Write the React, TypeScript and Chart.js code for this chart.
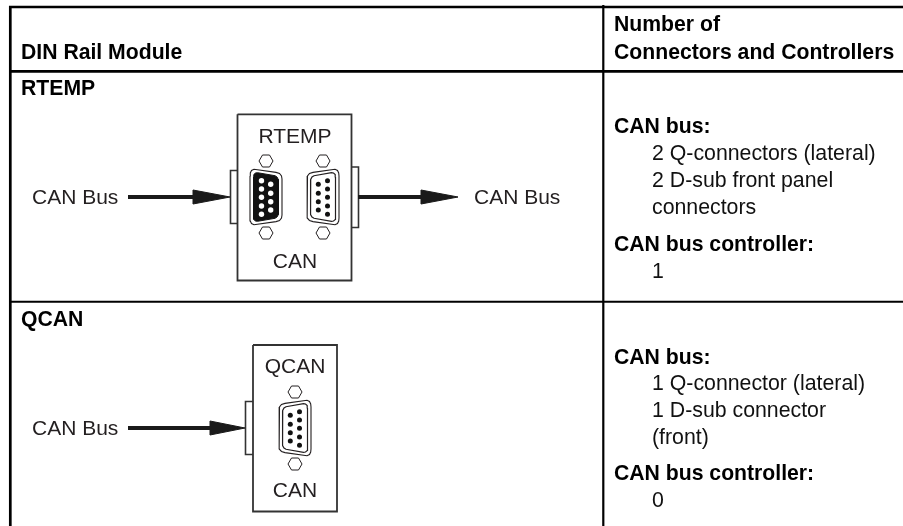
import React, { useEffect, useRef } from "react";
import { Chart, registerables } from "chart.js";

Chart.register(...registerables);

type P = { x: number; y: number };
const pts = (a: number[][]): P[] => a.map(([x, y]) => ({ x, y }));
const at = (a: number[][], cx: number, cy: number): P[] => a.map(([x, y]) => ({ x: x + cx, y: y + cy }));
const mirror = (a: number[][]) => a.map(([x, y]) => [-x, y]);

// --- text content ---
const headerLeft = ["DIN Rail Module"];
const headerRight = ["Number of", "Connectors and Controllers"];
const moduleNames = ["RTEMP", "QCAN"];
const busLabel = "CAN Bus";
const canLabel = "CAN";
const busHeading = "CAN bus:";
const controllerHeading = "CAN bus controller:";
const rtempLines = ["2 Q-connectors (lateral)", "2 D-sub front panel", "connectors"];
const qcanLines = ["1 Q-connector (lateral)", "1 D-sub connector", "(front)"];
const controllerCounts = ["1", "0"];

// --- table rules ---
const topRule = [[9, 7], [903, 7]];
const headerRule = [[9, 71.3], [903, 71.3]];
const rowRule = [[10, 301.7], [903, 301.7]];
const leftRule = [[10.3, 6], [10.3, 526]];
const columnRule = [[603.3, 5], [603.3, 526]];

// --- module outlines ---
const rtempBox = [[237.5, 114.3], [351.5, 114.3], [351.5, 280.5], [237.5, 280.5], [237.5, 114.3]];
const rtempLeftTab = [[237.5, 170.5], [230.5, 170.5], [230.5, 223.5], [237.5, 223.5]];
const rtempRightTab = [[351.5, 167], [358.5, 167], [358.5, 227.5], [351.5, 227.5]];
const qcanBox = [[253, 345], [337, 345], [337, 511.5], [253, 511.5], [253, 345]];
const qcanTab = [[253, 401.5], [245.5, 401.5], [245.5, 454.5], [253, 454.5]];

// --- arrows ---
const rtempInShaft = [[128, 197], [195, 197]];
const rtempInHead = [[193, 190], [230, 197], [193, 204], [193, 190]];
const rtempOutShaft = [[358, 197], [425, 197]];
const rtempOutHead = [[421, 190], [458, 197], [421, 204], [421, 190]];
const qcanShaft = [[128, 428], [212, 428]];
const qcanHead = [[210, 421], [245, 428], [210, 435], [210, 421]];

// --- connector shapes, relative to the connector centre ---
const hexagon = [[-7, 0], [-3.5, -6], [3.5, -6], [7, 0], [3.5, 6], [-3.5, 6], [-7, 0]];
const dsubOuter = [
  [-16, -21], [-15.7, -24], [-14.5, -26.5], [-12, -27.7], [10, -24.6], [13.5, -23.5], [15.5, -21], [16, -18],
  [16, 18], [15.5, 21], [13.5, 23.5], [10, 24.6], [-12, 27.7], [-14.5, 26.5], [-15.7, 24], [-16, 21], [-16, -21],
];
const dsubInner = [
  [-12.5, -20], [-12.2, -22.5], [-10.5, -24], [-8.5, -24.3], [9, -21.3], [11, -20], [12.3, -17.5], [12.5, -15],
  [12.5, 15], [12.3, 17.5], [11, 20], [9, 21.3], [-8.5, 24.3], [-10.5, 24], [-12.2, 22.5], [-12.5, 20], [-12.5, -20],
];
const dsubDots = [
  [-4.5, -16.3], [-4.5, -8], [-4.5, 0.3], [-4.5, 9], [-4.5, 17.3],
  [4.7, -12.7], [4.7, -3.7], [4.7, 4.7], [4.7, 13],
];

const HEAD = "bold 21.2px 'Liberation Sans', Arial, sans-serif";
const BODY = "21.3px 'Liberation Sans', Arial, sans-serif";
const DIAGRAM = "21px 'Liberation Sans', Arial, sans-serif";

type Txt = { s: string; x: number; y: number; font: string; color: string; center?: boolean };
const GREY = "#231f20";
const texts: Txt[] = [
  { s: headerLeft[0], x: 21, y: 59, font: HEAD, color: "#000" },
  { s: headerRight[0], x: 614, y: 31, font: HEAD, color: "#000" },
  { s: headerRight[1], x: 614, y: 59, font: HEAD, color: "#000" },
  { s: moduleNames[0], x: 21, y: 95, font: HEAD, color: "#000" },
  { s: moduleNames[1], x: 21, y: 326, font: HEAD, color: "#000" },
  { s: moduleNames[0], x: 295, y: 143, font: DIAGRAM, color: GREY, center: true },
  { s: canLabel, x: 295, y: 268, font: DIAGRAM, color: GREY, center: true },
  { s: moduleNames[1], x: 295, y: 373, font: DIAGRAM, color: GREY, center: true },
  { s: canLabel, x: 295, y: 497, font: DIAGRAM, color: GREY, center: true },
  { s: busLabel, x: 32, y: 204, font: DIAGRAM, color: GREY },
  { s: busLabel, x: 474, y: 204, font: DIAGRAM, color: GREY },
  { s: busLabel, x: 32, y: 435, font: DIAGRAM, color: GREY },
  { s: busHeading, x: 614, y: 133, font: HEAD, color: "#000" },
  { s: rtempLines[0], x: 652, y: 160, font: BODY, color: "#111" },
  { s: rtempLines[1], x: 652, y: 187, font: BODY, color: "#111" },
  { s: rtempLines[2], x: 652, y: 214, font: BODY, color: "#111" },
  { s: controllerHeading, x: 614, y: 251, font: HEAD, color: "#000" },
  { s: controllerCounts[0], x: 652, y: 278, font: BODY, color: "#111" },
  { s: busHeading, x: 614, y: 364, font: HEAD, color: "#000" },
  { s: qcanLines[0], x: 652, y: 390, font: BODY, color: "#111" },
  { s: qcanLines[1], x: 652, y: 417, font: BODY, color: "#111" },
  { s: qcanLines[2], x: 652, y: 444, font: BODY, color: "#111" },
  { s: controllerHeading, x: 614, y: 480, font: HEAD, color: "#000" },
  { s: controllerCounts[1], x: 652, y: 507, font: BODY, color: "#111" },
];

const line = (data: P[], color: string, width: number, extra: object = {}) => ({
  type: "line" as const, data, borderColor: color, borderWidth: width, pointRadius: 0,
  fill: false, tension: 0, borderJoinStyle: "miter" as const, ...extra,
});
const solid = (data: P[], color: string) =>
  line(data, color, 1, { fill: "shape", backgroundColor: color });
const dots = (data: P[], color: string, r: number) => ({
  type: "line" as const, data, showLine: false, pointRadius: r, pointBorderWidth: 0,
  pointBackgroundColor: color, pointBorderColor: color, borderWidth: 0,
});

const textPlugin = {
  id: "diagramText",
  afterDatasetsDraw(chart: any) {
    const { ctx, scales } = chart;
    ctx.save();
    ctx.textBaseline = "alphabetic";
    for (const t of texts) {
      ctx.font = t.font;
      ctx.fillStyle = t.color;
      ctx.textAlign = t.center ? "center" : "left";
      ctx.fillText(t.s, scales.x.getPixelForValue(t.x), scales.y.getPixelForValue(t.y));
    }
    ctx.restore();
  },
};

const connector = (cx: number, cy: number, filled: boolean, flip: boolean) => {
  const outer = flip ? mirror(dsubOuter) : dsubOuter;
  const inner = flip ? mirror(dsubInner) : dsubInner;
  const d = flip ? dsubDots.map(([x, y]) => [-x, y]) : dsubDots;
  const out: any[] = [
    line(at(hexagon, cx, cy - 36), "#231f20", 1),
    line(at(hexagon, cx, cy + 36), "#231f20", 1),
    line(at(outer, cx, cy), "#231f20", 1.1),
  ];
  if (filled) {
    out.push(solid(at(inner, cx, cy), "#111"));
    out.push(dots(at(d, cx, cy), "#fff", 2.7));
  } else {
    out.push(line(at(inner, cx, cy), "#231f20", 1.2));
    out.push(dots(at(d, cx, cy), "#111", 2.5));
  }
  return out;
};

export default function App() {
  const ref = useRef<HTMLCanvasElement>(null);
  useEffect(() => {
    const BOX = "#333";
    const datasets: any[] = [
      line(pts(topRule), "#000", 2.7),
      line(pts(headerRule), "#000", 2.7),
      line(pts(rowRule), "#000", 2),
      line(pts(leftRule), "#000", 2.7),
      line(pts(columnRule), "#000", 2.2),
      line(pts(rtempBox), BOX, 1.8),
      line(pts(rtempLeftTab), BOX, 1.6),
      line(pts(rtempRightTab), BOX, 1.6),
      line(pts(qcanBox), BOX, 1.8),
      line(pts(qcanTab), BOX, 1.6),
      line(pts(rtempInShaft), "#1a1a1a", 4),
      solid(pts(rtempInHead), "#1a1a1a"),
      line(pts(rtempOutShaft), "#1a1a1a", 4),
      solid(pts(rtempOutHead), "#1a1a1a"),
      line(pts(qcanShaft), "#1a1a1a", 4),
      solid(pts(qcanHead), "#1a1a1a"),
      ...connector(266, 197, true, false),
      ...connector(323, 197, false, true),
      ...connector(295, 428, false, true),
    ];
    datasets.forEach((d, i) => { d.order = -i; d.clip = false; });
    const chart = new Chart(ref.current!, {
      type: "line",
      data: { datasets },
      options: {
        animation: false,
        responsive: false,
        devicePixelRatio: 1,
        layout: { padding: 0, autoPadding: false },
        plugins: { legend: { display: false }, tooltip: { enabled: false }, title: { display: false } },
        events: [],
        scales: {
          x: { type: "linear", min: 0, max: 903, display: false },
          y: { type: "linear", min: 0, max: 526, reverse: true, display: false },
        },
      },
      plugins: [textPlugin],
    } as any);
    return () => chart.destroy();
  }, []);
  return (
    <div style={{ position: "fixed", left: 0, top: 0, width: 903, height: 526, background: "#fff" }}>
      <canvas ref={ref} width={903} height={526} style={{ display: "block" }} />
    </div>
  );
}
